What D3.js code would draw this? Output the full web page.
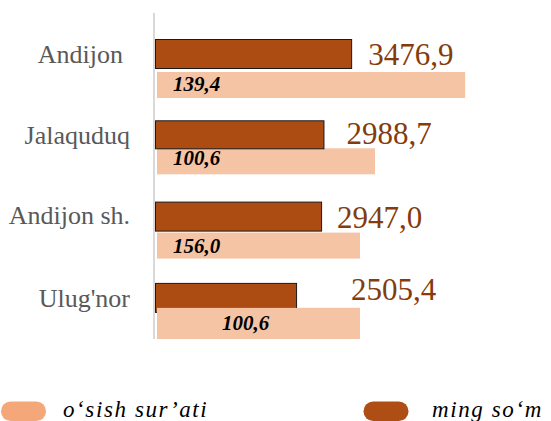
<!DOCTYPE html>
<html>
<head>
<meta charset="utf-8">
<script src="https://cdn.jsdelivr.net/npm/d3@7"></script>
<style>
  html, body { margin: 0; padding: 0; background: #fff; }
  svg { display: block; }
</style>
</head>
<body>
<svg id="chart" width="551" height="421"></svg>
<script>
// ---- data ----
const categories = ["Andijon", "Jalaquduq", "Andijon sh.", "Ulug'nor"];
const mingSom = [3476.9, 2988.7, 2947.0, 2505.4];          // dark bars, ming so'm
const osishLabels = ["139,4", "100,6", "156,0", "100,6"];   // growth rate labels
const osishValues = [139.4, 100.6, 156.0, 100.6];
// plotted length of light bars (same axis units as ming so'm)
const osishBarLength = [5470, 3880, 3615, 3615];
const mingSomLabels = ["3476,9", "2988,7", "2947,0", "2505,4"];
const legendLabels = ["o\u2018sish sur\u2019ati", "ming so\u2018m"];

// ---- layout ----
const svg = d3.select("#chart");
const x = d3.scaleLinear().domain([0, 6000]).range([155, 155 + 340.2]);
const y = d3.scaleBand().domain(categories).range([39, 39 + 4 * 81.3]).paddingInner(0).paddingOuter(0);

const darkColor = "#AD4C12";
const lightColor = "#F5C4A5";

// axis line
svg.append("line")
  .attr("x1", 154).attr("x2", 154)
  .attr("y1", 13).attr("y2", 339)
  .attr("stroke", "#D9D9D9").attr("stroke-width", 2);

// light bars
svg.selectAll("rect.light").data(categories).join("rect")
  .attr("class", "light")
  .attr("x", x(0) + 2)
  .attr("y", (d, i) => y(d) + [33, 28, 31, 25][i])
  .attr("width", (d, i) => x(osishBarLength[i]) - x(0) - 2)
  .attr("height", (d, i) => i === 3 ? 31 : 26)
  .attr("fill", lightColor);

// dark bars (Ulug'nor dark bar sits under its light bar)
svg.selectAll("rect.dark").data(categories).join("rect")
  .attr("class", "dark")
  .attr("x", x(0) + 0.5)
  .attr("y", d => y(d) + 0.5)
  .attr("width", (d, i) => x(mingSom[i]) - x(0) - 1)
  .attr("height", (d, i) => i === 1 ? 28 : 29)
  .attr("fill", darkColor)
  .attr("stroke", "#1a1a1a").attr("stroke-width", 1);

// redraw Ulug'nor light bar on top of its dark bar
svg.append("rect")
  .attr("x", x(0) + 2)
  .attr("y", y(categories[3]) + 25)
  .attr("width", x(osishBarLength[3]) - x(0) - 2)
  .attr("height", 31)
  .attr("fill", lightColor);

// light-bar labels
svg.selectAll("text.osish").data(categories).join("text")
  .attr("class", "osish")
  .attr("x", (d, i) => i === 3 ? 222 : 173)
  .attr("y", (d, i) => y(d) + [52, 45, 51, 47][i])
  .attr("font-family", "'Liberation Serif', 'Times New Roman', serif")
  .attr("font-size", 21)
  .attr("font-weight", "bold")
  .attr("font-style", "italic")
  .attr("fill", "#000")
  .text((d, i) => osishLabels[i]);

// dark-bar labels
svg.selectAll("text.ming").data(categories).join("text")
  .attr("class", "ming")
  .attr("x", (d, i) => x(mingSom[i]) + [16, 22, 15, 54][i])
  .attr("y", (d, i) => y(d) + [26, 24, 26, 17][i])
  .attr("font-family", "'Liberation Serif', 'Times New Roman', serif")
  .attr("font-size", 31)
  .attr("fill", "#843C0C")
  .text((d, i) => mingSomLabels[i]);

// category labels
svg.selectAll("text.cat").data(categories).join("text")
  .attr("class", "cat")
  .attr("x", (d, i) => i === 0 ? 123 : 130)
  .attr("y", (d, i) => y(d) + [24, 24, 22, 24][i])
  .attr("text-anchor", "end")
  .attr("font-family", "'Liberation Serif', 'Times New Roman', serif")
  .attr("font-size", 26)
  .attr("fill", "#595959")
  .text(d => d);

// legend
const legend = [
  { label: legendLabels[0], color: "#F4A778", sx: 1, tx: 63 },
  { label: legendLabels[1], color: "#AE4E14", sx: 363.5, tx: 432 }
];
legend.forEach(l => {
  svg.append("rect")
    .attr("x", l.sx).attr("y", 401.5)
    .attr("width", 45).attr("height", 19.5)
    .attr("rx", 9.75).attr("ry", 9.75)
    .attr("fill", l.color);
  svg.append("text")
    .attr("x", l.tx).attr("y", 416.5)
    .attr("font-family", "'Liberation Serif', 'Times New Roman', serif")
    .attr("font-size", 23)
    .attr("font-style", "italic")
    .attr("letter-spacing", 1.6)
    .attr("fill", "#000")
    .text(l.label);
});
</script>
</body>
</html>
